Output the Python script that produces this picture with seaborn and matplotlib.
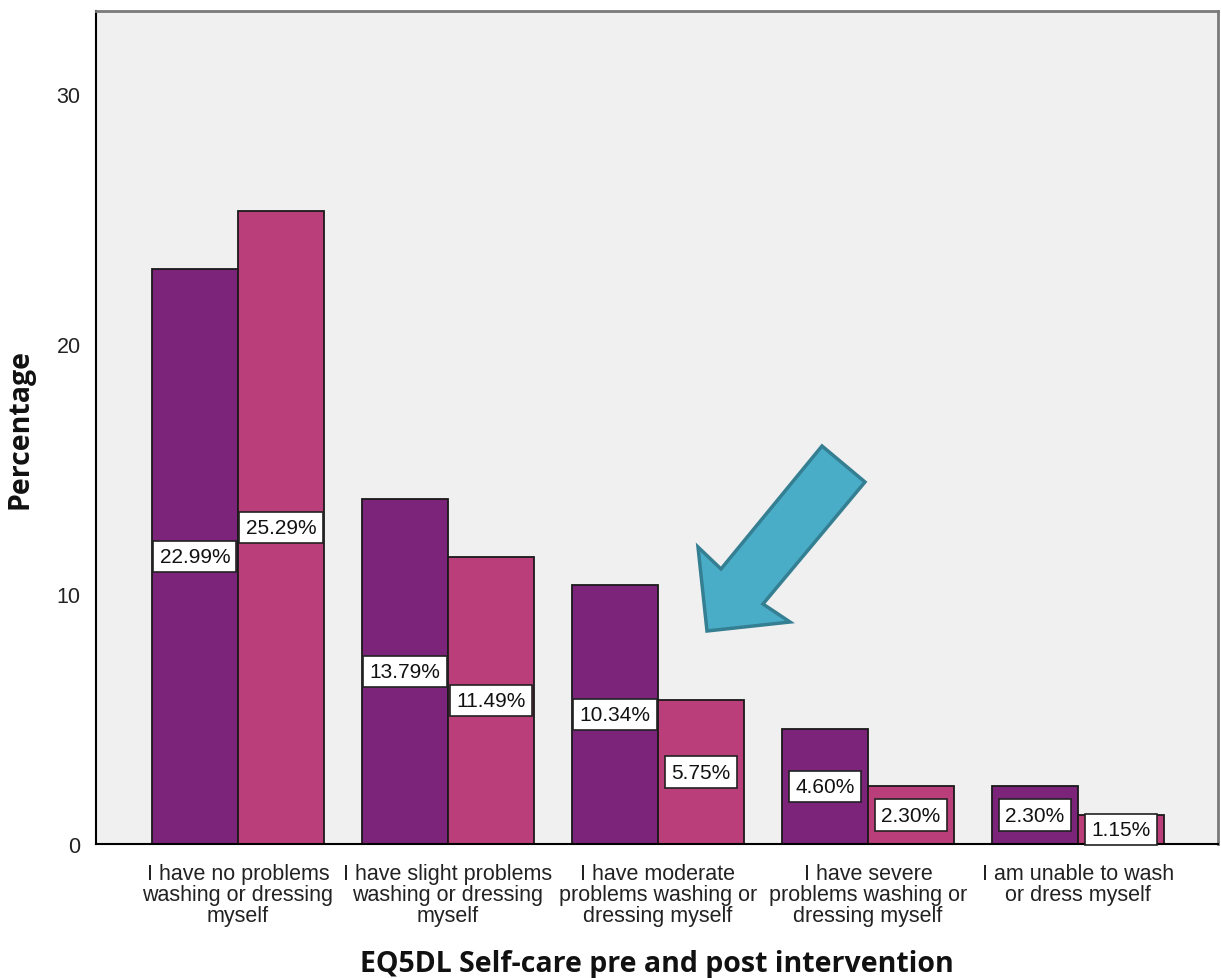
import matplotlib
matplotlib.use("Agg")
import matplotlib.pyplot as plt
import matplotlib.patches as mpatches
import pandas as pd
import seaborn as sns

# chart data
categories = ["I have no problems\nwashing or dressing\nmyself",
              "I have slight problems\nwashing or dressing\nmyself",
              "I have moderate\nproblems washing or\ndressing myself",
              "I have severe\nproblems washing or\ndressing myself",
              "I am unable to wash\nor dress myself"]
pre_values = [22.99, 13.79, 10.34, 4.60, 2.30]
post_values = [25.29, 11.49, 5.75, 2.30, 1.15]
y_ticks = [0, 10, 20, 30]

df = pd.DataFrame({
    "category": categories * 2,
    "value": pre_values + post_values,
    "time": ["Pre"] * len(categories) + ["Post"] * len(categories),
})

sns.set_style("white")
plt.rcParams["font.family"] = ["Liberation Sans", "DejaVu Sans"]

fig = plt.figure(figsize=(12.21, 9.79), dpi=100)
ax = fig.add_axes([96 / 1221, 1 - 845 / 979, (1218 - 96) / 1221, (845 - 12) / 979])
ax.set_facecolor("#F0F0F0")

sns.barplot(data=df, x="category", y="value", hue="time", order=categories,
            hue_order=["Pre", "Post"], palette=["#7B2479", "#B93E7A"],
            saturation=1, width=0.82, edgecolor="#1a1a1a", linewidth=1.3,
            legend=False, errorbar=None, ax=ax)

# value labels in the middle of each bar
for cont in ax.containers:
    for bar in cont:
        h = bar.get_height()
        ax.text(bar.get_x() + bar.get_width() / 2, h / 2, "%.2f%%" % h,
                ha="center", va="center", fontsize=15, color="#111111",
                bbox=dict(boxstyle="square,pad=0.3", facecolor="white",
                          edgecolor="#222222", linewidth=1.2))

ax.set_xlim(-0.676, 4.667)
ax.set_ylim(0, 33.3)
ax.set_yticks(y_ticks)
ax.tick_params(axis="both", which="both", direction="out", length=8, width=1.5,
               color="black", labelsize=15.5, labelcolor="#222222", pad=3)
ax.tick_params(axis="x", length=12, pad=2)
ax.set_xticks(range(len(categories)))
ax.set_xticklabels(categories, linespacing=1.0)

ax.set_xlabel("EQ5DL Self-care pre and post intervention", fontsize=20.5,
              fontweight="bold", family="Open Sans", color="#111111", labelpad=16)
ax.set_ylabel("Percentage", fontsize=20.5, fontweight="bold", family="Open Sans",
              color="#111111", labelpad=16)

for side in ["left", "bottom"]:
    ax.spines[side].set_color("black")
    ax.spines[side].set_linewidth(1.5)
for side in ["top", "right"]:
    ax.spines[side].set_color("#7a7a7a")
    ax.spines[side].set_linewidth(2)

# blue arrow annotation (figure pixel coords)
arrow_px = [(822, 447), (865, 483), (763, 605), (790, 623), (707, 632),
            (698, 548), (721, 570)]
arrow = mpatches.Polygon([(x / 1221, 1 - y / 979) for x, y in arrow_px],
                         closed=True, facecolor="#4AADC8", edgecolor="#357F93",
                         linewidth=2.5, joinstyle="miter",
                         transform=fig.transFigure, zorder=10)
fig.patches.append(arrow)

fig.savefig("out.png", dpi=100)
